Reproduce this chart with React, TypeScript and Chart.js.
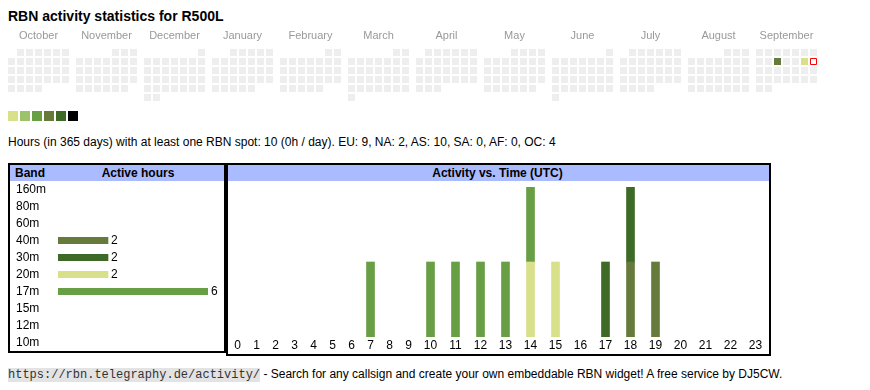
import React, { useEffect, useRef } from 'react';
import { Chart, registerables } from 'chart.js';

Chart.register(...registerables);

// ---------------- data ----------------
const CALLSIGN = 'R500L';
const MONTHS = ['October', 'November', 'December', 'January', 'February', 'March', 'April', 'May', 'June', 'July', 'August', 'September'];
const FIRST_YEAR = 2024;
const FIRST_MONTH = 9; // October (0-based)
const TODAY = '2025-09-14';
const ACTIVE_DAYS = ['2025-09-10', '2025-09-13'];
const ACTIVE_LEVELS = [3, 0];
const LEVEL_COLORS = ['#d9e08a', '#9dc36a', '#689f45', '#667a3c', '#3d6a27', '#000000'];

const BANDS = ['160m', '80m', '60m', '40m', '30m', '20m', '17m', '15m', '12m', '10m'];
const BAND_HOURS = [0, 0, 0, 2, 2, 2, 6, 0, 0, 0];
const BAND_COLORS = ['#000000', '#3d6a27', '#667a3c', '#667a3c', '#3d6a27', '#d9e08a', '#689f45', '#9dc36a', '#d9e08a', '#689f45'];

const HOURS = ['0', '1', '2', '3', '4', '5', '6', '7', '8', '9', '10', '11', '12', '13', '14', '15', '16', '17', '18', '19', '20', '21', '22', '23'];
const ACT_40M = [0, 0, 0, 0, 0, 0, 0, 0, 0, 0, 0, 0, 0, 0, 0, 0, 0, 0, 1, 1, 0, 0, 0, 0];
const ACT_30M = [0, 0, 0, 0, 0, 0, 0, 0, 0, 0, 0, 0, 0, 0, 0, 0, 0, 1, 1, 0, 0, 0, 0, 0];
const ACT_20M = [0, 0, 0, 0, 0, 0, 0, 0, 0, 0, 0, 0, 0, 0, 1, 1, 0, 0, 0, 0, 0, 0, 0, 0];
const ACT_17M = [0, 0, 0, 0, 0, 0, 0, 1, 0, 0, 1, 1, 1, 1, 1, 0, 0, 0, 0, 0, 0, 0, 0, 0];

const CONTINENTS = ['EU', 'NA', 'AS', 'SA', 'AF', 'OC'];
const CONT_HOURS = [9, 2, 10, 0, 0, 4];

// ---------------- layout constants ----------------
const FONT = '"Liberation Sans", Arial, Helvetica, sans-serif';
const CELL = 7;
const PITCH = 9;
const MONTH_GAP = 5 / PITCH; // extra gap between month blocks, in cell units
const CAL_LEFT = 8;
const CAL_TOP = 49;
const CAL_H = 104;

// hour columns behave like table cells: width grows with label length
const COL_PAD = 13;
const COL_DIGIT = 6;
const colWidths = HOURS.map((h) => COL_PAD + COL_DIGIT * h.length);
const colCenters: number[] = [];
{
  let acc = 0;
  colWidths.forEach((w) => {
    colCenters.push(acc + w / 2);
    acc += w;
  });
}
const COL_TOTAL = colWidths.reduce((a, b) => a + b, 0);

Chart.defaults.font.family = FONT;

function pad2(n: number) {
  return n < 10 ? '0' + n : '' + n;
}

function buildCalendar() {
  const cells: { x: number; y: number; key: string }[] = [];
  for (let m = 0; m < 12; m++) {
    const y = FIRST_YEAR + Math.floor((FIRST_MONTH + m) / 12);
    const mo = (FIRST_MONTH + m) % 12;
    const firstCol = (new Date(Date.UTC(y, mo, 1)).getUTCDay() + 6) % 7;
    const days = new Date(Date.UTC(y, mo + 1, 0)).getUTCDate();
    for (let d = 1; d <= days; d++) {
      const idx = firstCol + d - 1;
      cells.push({ x: m * (7 + MONTH_GAP) + (idx % 7), y: Math.floor(idx / 7), key: `${y}-${pad2(mo + 1)}-${pad2(d)}` });
    }
  }
  return cells;
}

const noPad = (s: any) => {
  s.paddingLeft = 0;
  s.paddingRight = 0;
  s.paddingTop = 0;
  s.paddingBottom = 0;
};

function CalendarChart() {
  const ref = useRef<HTMLCanvasElement>(null);
  useEffect(() => {
    const cells = buildCalendar();
    const grey = cells.filter((c) => c.key !== TODAY && !ACTIVE_DAYS.includes(c.key));
    const active = cells.filter((c) => ACTIVE_DAYS.includes(c.key));
    const today = cells.filter((c) => c.key === TODAY);
    const xMin = -(CAL_LEFT + CELL / 2) / PITCH;
    const yMin = -(CAL_TOP + CELL / 2) / PITCH;
    const monthLabels = {
      id: 'monthLabels',
      afterDraw(chart: any) {
        const ctx = chart.ctx;
        const xs = chart.scales.x;
        ctx.save();
        ctx.font = `11px ${FONT}`;
        ctx.fillStyle = '#999999';
        ctx.textAlign = 'center';
        ctx.textBaseline = 'alphabetic';
        MONTHS.forEach((name, m) => {
          ctx.fillText(name, xs.getPixelForValue(m * (7 + MONTH_GAP) + 3), 39);
        });
        ctx.restore();
      },
    };
    const chart = new Chart(ref.current!, {
      type: 'scatter',
      data: {
        datasets: [
          { data: grey, pointStyle: 'rect', pointRadius: CELL / Math.SQRT2, backgroundColor: '#eeeeee', borderWidth: 0 },
          {
            data: active,
            pointStyle: 'rect',
            pointRadius: CELL / Math.SQRT2,
            backgroundColor: active.map((c) => LEVEL_COLORS[ACTIVE_LEVELS[ACTIVE_DAYS.indexOf(c.key)]]),
            borderWidth: 0,
          },
          { data: today, pointStyle: 'rect', pointRadius: (CELL - 1) / Math.SQRT2, backgroundColor: '#ffffff', borderColor: '#ff0000', borderWidth: 1 },
        ],
      },
      options: {
        animation: false,
        responsive: false,
        events: [],
        layout: { padding: 0, autoPadding: false },
        plugins: { legend: { display: false }, tooltip: { enabled: false } },
        scales: {
          x: { type: 'linear', display: false, bounds: 'data', min: xMin, max: xMin + 870 / PITCH },
          y: { type: 'linear', display: false, reverse: true, bounds: 'data', min: yMin, max: yMin + CAL_H / PITCH },
        },
      },
      plugins: [monthLabels],
    } as any);
    return () => chart.destroy();
  }, []);
  return <canvas ref={ref} width={870} height={CAL_H} style={{ position: 'absolute', left: 0, top: 0, width: 870, height: CAL_H }} />;
}

function BandChart() {
  const ref = useRef<HTMLCanvasElement>(null);
  useEffect(() => {
    const valueLabels = {
      id: 'valueLabels',
      afterDatasetsDraw(chart: any) {
        const ctx = chart.ctx;
        const meta = chart.getDatasetMeta(0);
        ctx.save();
        ctx.font = `12px ${FONT}`;
        ctx.fillStyle = '#000000';
        ctx.textAlign = 'left';
        ctx.textBaseline = 'middle';
        meta.data.forEach((bar: any, i: number) => {
          if (BAND_HOURS[i] > 0) ctx.fillText(String(BAND_HOURS[i]), bar.x + 3, bar.y);
        });
        ctx.restore();
      },
    };
    const chart = new Chart(ref.current!, {
      type: 'bar',
      data: {
        labels: BANDS,
        datasets: [{ data: BAND_HOURS.map((v) => (v > 0 ? v : null)), backgroundColor: BAND_COLORS, borderWidth: 0, barThickness: 6.5 }],
      },
      options: {
        indexAxis: 'y',
        animation: false,
        responsive: false,
        events: [],
        layout: { padding: { left: 6, right: 16, top: 0, bottom: 0 }, autoPadding: false },
        plugins: { legend: { display: false }, tooltip: { enabled: false } },
        scales: {
          x: { display: false, min: 0, max: Math.max(...BAND_HOURS) },
          y: {
            grid: { display: false, drawTicks: false },
            border: { display: false },
            ticks: { crossAlign: 'far', padding: 0, autoSkip: false, color: '#000000', font: { size: 12, family: FONT } },
            afterFit: (s: any) => {
              s.width = 42;
              noPad(s);
            },
          },
        },
      },
      plugins: [valueLabels],
    } as any);
    return () => chart.destroy();
  }, []);
  return <canvas ref={ref} width={214} height={170} style={{ position: 'absolute', left: 10, top: 181, width: 214, height: 170 }} />;
}

function ActivityChart() {
  const ref = useRef<HTMLCanvasElement>(null);
  useEffect(() => {
    const series = [
      { label: '40m', data: ACT_40M, color: BAND_COLORS[3] },
      { label: '30m', data: ACT_30M, color: BAND_COLORS[4] },
      { label: '20m', data: ACT_20M, color: BAND_COLORS[5] },
      { label: '17m', data: ACT_17M, color: BAND_COLORS[6] },
    ];
    const chart = new Chart(ref.current!, {
      type: 'bar',
      data: {
        datasets: series.map((s) => ({
          label: s.label,
          data: s.data.map((v, i) => ({ x: colCenters[i], y: v })).filter((p) => p.y > 0),
          backgroundColor: s.color,
          borderWidth: 0,
          barThickness: 8,
        })),
      },
      options: {
        animation: false,
        responsive: false,
        events: [],
        layout: { padding: { left: 1, right: 1, top: 6, bottom: 0 }, autoPadding: false },
        plugins: { legend: { display: false }, tooltip: { enabled: false } },
        scales: {
          x: {
            type: 'linear',
            stacked: true,
            offset: false,
            bounds: 'data',
            min: 0,
            max: COL_TOTAL,
            grid: { display: false, drawTicks: false, offset: false },
            border: { display: false },
            afterBuildTicks: (s: any) => {
              s.ticks = colCenters.map((v) => ({ value: v }));
            },
            afterFit: (s: any) => {
              s.height = 17;
              noPad(s);
            },
            ticks: {
              autoSkip: false,
              maxRotation: 0,
              minRotation: 0,
              padding: 1,
              color: '#000000',
              font: { size: 12, family: FONT },
              callback: (_v: any, i: number) => HOURS[i],
            },
          },
          y: { display: false, stacked: true, min: 0, max: 2 },
        },
      },
    } as any);
    return () => chart.destroy();
  }, []);
  return <canvas ref={ref} width={542} height={173} style={{ position: 'absolute', left: 227, top: 181, width: 542, height: 173 }} />;
}

export default function App() {
  const activeHours = HOURS.filter((_, i) => ACT_40M[i] + ACT_30M[i] + ACT_20M[i] + ACT_17M[i] > 0).length;
  const statsText =
    `Hours (in 365 days) with at least one RBN spot: ${activeHours} (0h / day). ` +
    CONTINENTS.map((c, i) => `${c}: ${CONT_HOURS[i]}`).join(', ');
  const abs = (s: React.CSSProperties): React.CSSProperties => ({ position: 'absolute', ...s });
  return (
    <div style={{ position: 'absolute', left: 0, top: 0, width: 870, height: 390, background: '#ffffff', fontFamily: FONT, color: '#000' }}>
      <div style={abs({ left: 8, top: 9, fontSize: 14, lineHeight: '14px', fontWeight: 'bold', whiteSpace: 'nowrap' })}>
        RBN activity statistics for {CALLSIGN}
      </div>
      {LEVEL_COLORS.map((c, i) => (
        <div key={i} style={abs({ left: 8 + 12 * i, top: 111, width: 10, height: 10, background: c })} />
      ))}
      <div style={abs({ left: 8, top: 137, fontSize: 12, lineHeight: '11px', whiteSpace: 'nowrap' })}>{statsText}</div>

      <div style={abs({ left: 8, top: 163, width: 218, height: 190, border: '2px solid #000', boxSizing: 'border-box' })} />
      <div style={abs({ left: 10, top: 165, width: 214, height: 16, background: '#aabbff' })} />
      <div style={abs({ left: 15, top: 165, fontSize: 12, lineHeight: '16px', fontWeight: 'bold' })}>Band</div>
      <div style={abs({ left: 58, top: 165, width: 160, textAlign: 'center', fontSize: 12, lineHeight: '16px', fontWeight: 'bold' })}>Active hours</div>

      <div style={abs({ left: 226, top: 163, width: 545, height: 193, border: '2px solid #000', boxSizing: 'border-box' })} />
      <div style={abs({ left: 228, top: 165, width: 541, height: 16, background: '#aabbff' })} />
      <div style={abs({ left: 227, top: 165, width: 541, textAlign: 'center', fontSize: 12, lineHeight: '16px', fontWeight: 'bold' })}>
        Activity vs. Time (UTC)
      </div>

      <div style={abs({ left: 8, top: 367, fontSize: 12, lineHeight: '15px', whiteSpace: 'nowrap' })}>
        <span style={{ fontFamily: '"Liberation Mono", monospace', fontSize: 12, background: '#e3e3e3', color: '#333' }}>
          https://rbn.telegraphy.de/activity/
        </span>{' '}
        - Search for any callsign and create your own embeddable RBN widget! A free service by DJ5CW.
      </div>

      <CalendarChart />
      <BandChart />
      <ActivityChart />
    </div>
  );
}
